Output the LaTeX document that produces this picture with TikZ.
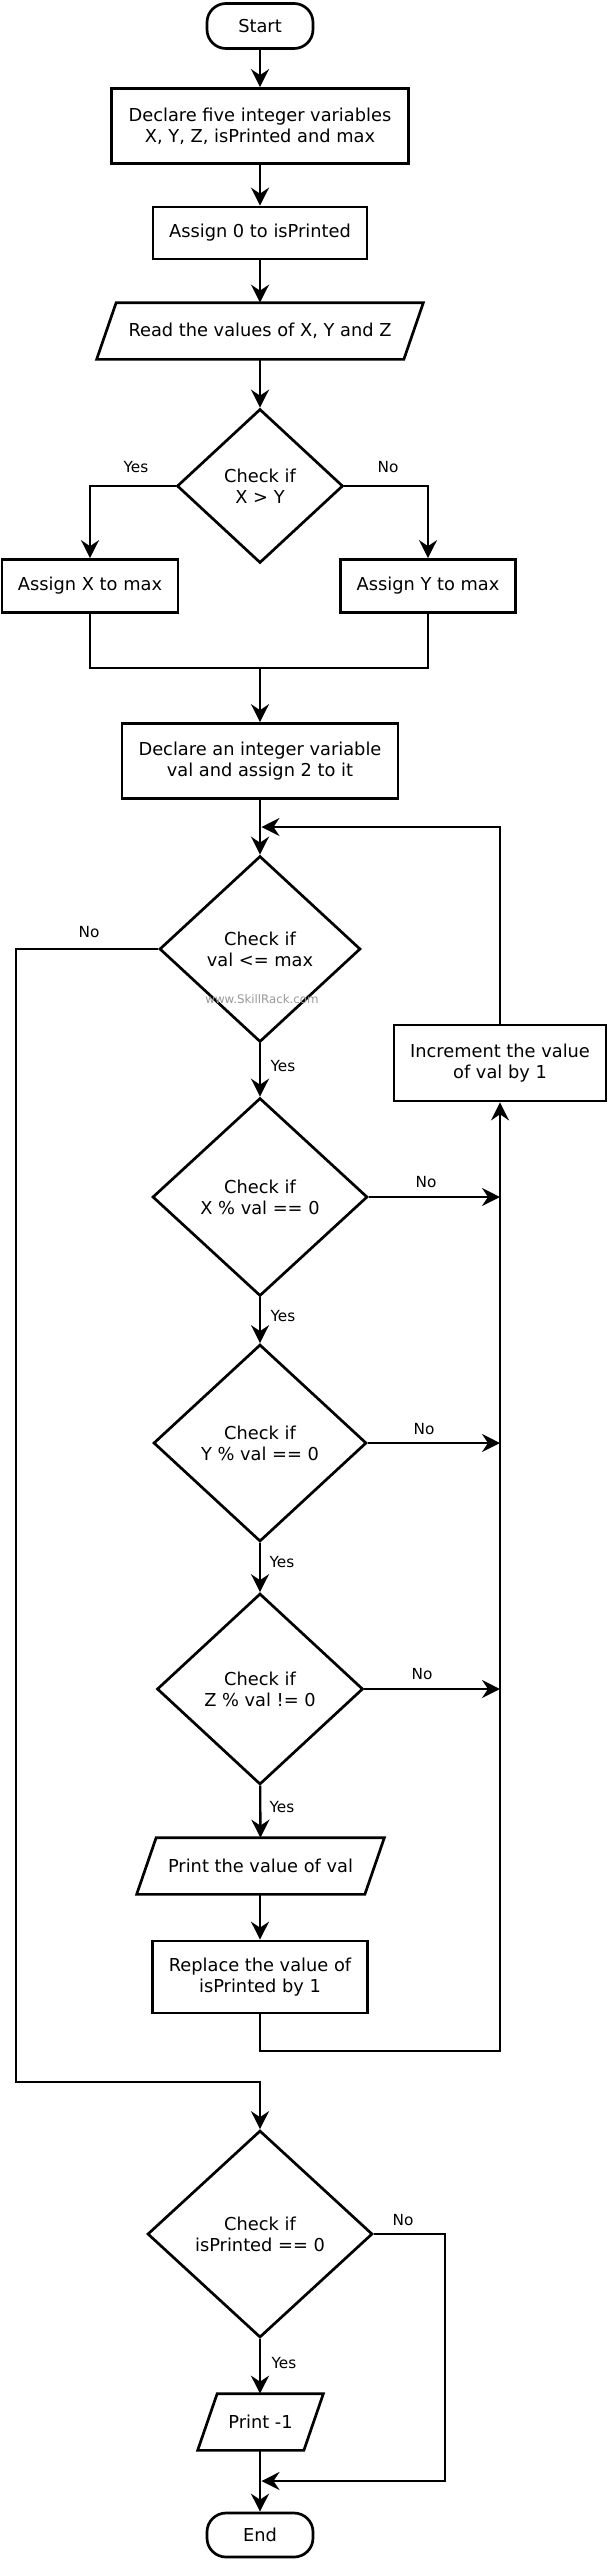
\documentclass[tikz,border=0pt]{standalone}
\usepackage{fontspec}
\setmainfont{DejaVu Sans}
\usetikzlibrary{shapes.geometric,arrows.meta}
\begin{document}
\begin{tikzpicture}[x=1pt,y=-1pt,
  lw/.style={line width=2.7pt},
  txt/.style={align=center, font=\fontsize{17.8}{21}\selectfont},
  proc/.style={lw, draw, txt, rectangle, inner sep=2pt},
  term/.style={lw, draw, txt, rectangle, rounded corners=19pt, inner sep=2pt},
  dec/.style={lw, draw, txt, diamond, inner sep=0pt},
  iobox/.style={lw, txt, rectangle, inner sep=2pt},
  arr/.style={line width=2.3pt, -{Stealth[length=18pt,width=18pt,inset=6pt]}},
  conn/.style={line width=2.3pt},
  lbl/.style={font=\fontsize{15.3}{18}\selectfont, inner sep=0pt},
]
\fill[white] (0,0) rectangle (608,2561);
\useasboundingbox (0,0) rectangle (608,2561);

% nodes
\node[term, minimum width=106pt, minimum height=45pt] (start) at (260,26) {Start};
\node[proc, minimum width=297pt, minimum height=75pt] (decl1) at (260,126) {Declare five integer variables\\ X, Y, Z, isPrinted and max};
\node[proc, minimum width=214pt, minimum height=52pt] (asg0) at (260,233) {Assign 0 to isPrinted};
\node[iobox, minimum width=324pt, minimum height=54pt] (read) at (260,331) {Read the values of X, Y and Z};
\node[dec, minimum width=166pt, minimum height=154pt] (chk1) at (260,486) {Check if\\X > Y};
\node[proc, minimum width=176pt, minimum height=53pt] (ax) at (90,586) {Assign X to max};
\node[proc, minimum width=175pt, minimum height=53pt] (ay) at (428,586) {Assign Y to max};
\node[proc, minimum width=276pt, minimum height=75pt] (decl2) at (260,761) {Declare an integer variable\\val and assign 2 to it};
\node[dec, minimum width=201pt, minimum height=186pt] (chk2) at (260,949) {Check if\\val <= max};
\node[font=\fontsize{11.8}{14}\selectfont, text=black!40, inner sep=0pt] (wm) at (262,999) {www.SkillRack.com};
\node[proc, minimum width=212pt, minimum height=76pt] (inc) at (500,1063) {Increment the value\\of val by 1};
\node[dec, minimum width=215pt, minimum height=198pt] (chk3) at (260,1197) {Check if\\X \% val == 0};
\node[dec, minimum width=213pt, minimum height=197pt] (chk4) at (260,1443) {Check if\\Y \% val == 0};
\node[dec, minimum width=206pt, minimum height=191pt] (chk5) at (260,1689) {Check if\\Z \% val != 0};
\node[iobox, minimum width=245pt, minimum height=54pt] (pr) at (260.5,1866) {Print the value of val};
\node[proc, minimum width=215pt, minimum height=72pt] (rep) at (260,1977) {Replace the value of\\isPrinted by 1};
\node[dec, minimum width=225pt, minimum height=207pt] (chk6) at (260,2234) {Check if\\isPrinted == 0};
\node[iobox, minimum width=123pt, minimum height=54pt] (p1) at (260.5,2422) {Print -1};
\node[term, minimum width=106pt, minimum height=44pt] (end) at (260,2535) {End};

% parallelogram outlines
\foreach \n in {read,pr,p1}
  \draw[lw, line join=miter] (\n.south west) -- ([xshift=19.5pt]\n.north west) -- (\n.north east) -- ([xshift=-19.5pt]\n.south east) -- cycle;

% labels
\node[lbl] (ly1) at (136,467) {Yes};
\node[lbl] (ln1) at (388,467) {No};
\node[lbl] (ln2) at (89,932) {No};
\node[lbl] (ly2) at (283,1066) {Yes};
\node[lbl] (ln3) at (426,1182) {No};
\node[lbl] (ly3) at (283,1316) {Yes};
\node[lbl] (ln4) at (424,1429) {No};
\node[lbl] (ly4) at (282,1562) {Yes};
\node[lbl] (ln5) at (422,1674) {No};
\node[lbl] (ly5) at (282,1807) {Yes};
\node[lbl] (ln6) at (403,2220) {No};
\node[lbl] (ly6) at (284,2363) {Yes};

% coordinates
\coordinate (m1) at (260,668);
\coordinate (r1) at (500,2051);
\coordinate (lp) at (261.5,827);
\coordinate (n1) at (16,2082);
\coordinate (n2) at (445,2481);
\coordinate (n3) at (261.5,2481);

% connectors
\draw[arr] (start) -- (decl1);
\draw[arr] (decl1) -- (asg0);
\draw[arr] (asg0) -- (read);
\draw[arr] (read) -- (chk1);
\draw[arr] (chk1.west) -| (ax.north);
\draw[arr] (chk1.east) -| (ay.north);
\draw[conn] (ax.south) |- (m1) -| (ay.south);
\draw[arr] (m1) -- (decl2);
\draw[arr] (decl2) -- (chk2);
\draw[arr] (chk2) -- (chk3);
\draw[arr] (chk3) -- (chk4);
\draw[arr] (chk4) -- (chk5);
\draw[arr] (chk5) -- (pr);
\draw[arr] (pr.south -| rep.north) -- (rep);
\draw[arr] (rep.south) |- (r1) -- (inc.south);
\draw[arr] (inc.north) |- (lp);
\draw[arr] (chk3.east) -- (chk3.east -| inc.south);
\draw[arr] (chk4.east) -- (chk4.east -| inc.south);
\draw[arr] (chk5.east) -- (chk5.east -| inc.south);
\draw[arr] (chk2.west) -| (n1) -| (chk6.north);
\draw[arr] (chk6) -- (chk6.south |- p1.north);
\draw[arr] (p1.south -| end.north) -- (end);
\draw[arr] (chk6.east) -| (n2) -- (n3);
\end{tikzpicture}
\end{document}
